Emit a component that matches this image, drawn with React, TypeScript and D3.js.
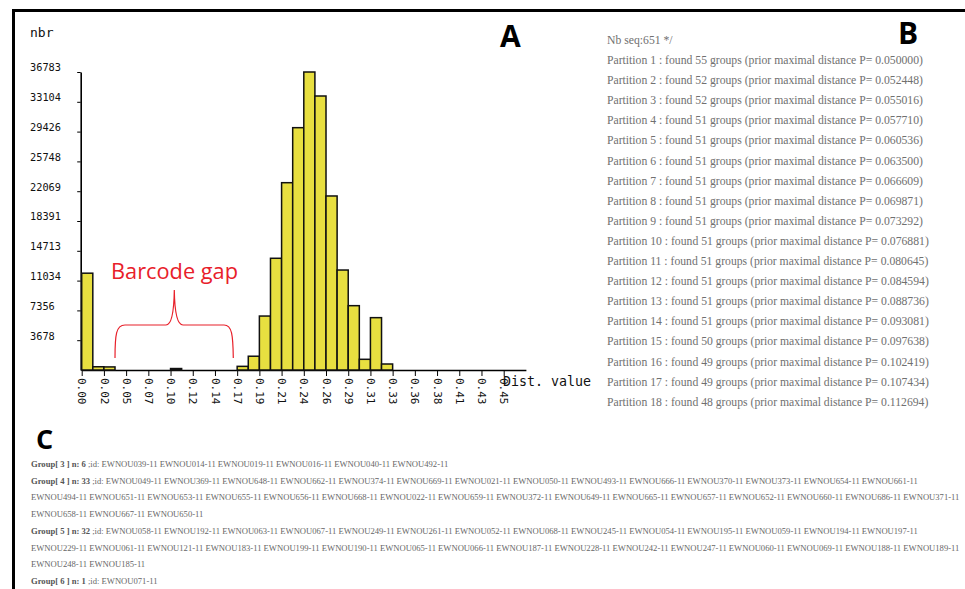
import React, { useEffect, useRef } from 'react'
import { axisBottom, axisLeft, scaleLinear, select } from 'd3'

// histogram of pairwise distances (38 bins from 0 to 0.45)
const binCounts = [
  11950, 400, 380, 0, 0, 0, 0, 0, 180, 0, 0, 0, 0, 0,
  450, 1700, 6660, 13790, 23120, 29910, 36783, 33820, 21480, 12340,
  7940, 1320, 6460, 740, 0, 0, 0, 0, 0, 0, 0, 0, 0, 0,
]
const xTickLabels = [
  '0.00', '0.02', '0.05', '0.07', '0.10', '0.12', '0.14', '0.17', '0.19', '0.21',
  '0.24', '0.26', '0.29', '0.31', '0.33', '0.36', '0.38', '0.41', '0.43', '0.45',
]
const yTickLabels = [3678, 7356, 11034, 14713, 18391, 22069, 25748, 29426, 33104, 36783]

const nbSeq = 651
const partitionGroups = [55, 52, 52, 51, 51, 51, 51, 51, 51, 51, 51, 51, 51, 51, 50, 49, 49, 48]
const partitionDistances = [
  '0.050000', '0.052448', '0.055016', '0.057710', '0.060536', '0.063500',
  '0.066609', '0.069871', '0.073292', '0.076881', '0.080645', '0.084594',
  '0.088736', '0.093081', '0.097638', '0.102419', '0.107434', '0.112694',
]

const groupNumbers = [3, 4, 5, 6]
const groupIds = [
  ['EWNOU039-11', 'EWNOU014-11', 'EWNOU019-11', 'EWNOU016-11', 'EWNOU040-11', 'EWNOU492-11'],
  ['EWNOU049-11', 'EWNOU369-11', 'EWNOU648-11', 'EWNOU662-11', 'EWNOU374-11', 'EWNOU669-11', 'EWNOU021-11',
    'EWNOU050-11', 'EWNOU493-11', 'EWNOU666-11', 'EWNOU370-11', 'EWNOU373-11', 'EWNOU654-11', 'EWNOU661-11',
    'EWNOU494-11', 'EWNOU651-11', 'EWNOU653-11', 'EWNOU655-11', 'EWNOU656-11', 'EWNOU668-11', 'EWNOU022-11',
    'EWNOU659-11', 'EWNOU372-11', 'EWNOU649-11', 'EWNOU665-11', 'EWNOU657-11', 'EWNOU652-11', 'EWNOU660-11',
    'EWNOU686-11', 'EWNOU371-11', 'EWNOU658-11', 'EWNOU667-11', 'EWNOU650-11'],
  ['EWNOU058-11', 'EWNOU192-11', 'EWNOU063-11', 'EWNOU067-11', 'EWNOU249-11', 'EWNOU261-11', 'EWNOU052-11',
    'EWNOU068-11', 'EWNOU245-11', 'EWNOU054-11', 'EWNOU195-11', 'EWNOU059-11', 'EWNOU194-11', 'EWNOU197-11',
    'EWNOU229-11', 'EWNOU061-11', 'EWNOU121-11', 'EWNOU183-11', 'EWNOU199-11', 'EWNOU190-11', 'EWNOU065-11',
    'EWNOU066-11', 'EWNOU187-11', 'EWNOU228-11', 'EWNOU242-11', 'EWNOU247-11', 'EWNOU060-11', 'EWNOU069-11',
    'EWNOU188-11', 'EWNOU189-11', 'EWNOU248-11', 'EWNOU185-11'],
  ['EWNOU071-11'],
]
// how many ids go on each printed line
const groupLineBreaks = [[6], [14, 16, 3], [14, 16, 2], [1]]

const W = 965
const H = 589
const maxDist = 0.45
const binW = maxDist / 38
const tickStep = maxDist / 19

const App = () => {
  const svgRef = useRef<SVGSVGElement>(null)

  const x = scaleLinear().domain([0, maxDist + tickStep]).range([81.7, 525.9])
  const y = scaleLinear().domain([0, 36783]).range([370, 72])

  useEffect(() => {
    const svg = select(svgRef.current)

    svg.selectAll('.bar')
      .data(binCounts.map((v, i) => ({ v, i })).filter(d => d.v > 0))
      .join('rect')
      .attr('class', 'bar')
      .attr('x', d => x(d.i * binW))
      .attr('width', d => x((d.i + 1) * binW) - x(d.i * binW))
      .attr('y', d => y(d.v))
      .attr('height', d => y(0) - y(d.v))
      .attr('fill', '#e8df40')
      .attr('stroke', '#111')
      .attr('stroke-width', 1.5)

    const xAxis = axisBottom(x)
      .tickValues(xTickLabels.map((_, i) => i * tickStep))
      .tickFormat((_, i) => xTickLabels[i])
      .tickSize(6)
      .tickSizeOuter(0)

    const gx = svg.select('.x-axis').attr('transform', `translate(0,${y(0)})`).call(xAxis as any)
    gx.select('.domain').attr('stroke-width', 1.6)
    gx.selectAll('text')
      .attr('transform', 'rotate(90)')
      .attr('x', 8)
      .attr('y', 0)
      .attr('dy', '0.35em')
      .attr('text-anchor', 'start')
      .attr('font-family', 'DejaVu Sans Mono')
      .attr('font-size', 11)
      .attr('fill', '#111')

    const yAxis = axisLeft(y)
      .tickValues(yTickLabels)
      .tickFormat(d => String(d))
      .tickSize(3.5)
      .tickSizeOuter(0)

    const gy = svg.select('.y-axis').attr('transform', `translate(${x(0) - 1},0)`).call(yAxis as any)
    gy.select('.domain').attr('stroke-width', 1.6)
    gy.selectAll('text')
      .attr('x', 30 - x(0) + 1)
      .attr('dy', '-0.1em')
      .attr('text-anchor', 'start')
      .attr('font-family', 'DejaVu Sans Mono')
      .attr('font-size', 10.3)
      .attr('fill', '#111')
  }, [])

  const partitionLines = partitionGroups.map((g, i) =>
    `Partition ${i + 1} : found ${g} groups (prior maximal distance P= ${partitionDistances[i]})`)

  // split each group's ids into printed lines
  const groupRows: { head: string | null, ids: string[] }[] = []
  groupNumbers.forEach((g, gi) => {
    let start = 0
    groupLineBreaks[gi].forEach((n, li) => {
      groupRows.push({
        head: li === 0 ? `Group[ ${g} ] n: ${groupIds[gi].length}` : null,
        ids: groupIds[gi].slice(start, start + n),
      })
      start += n
    })
  })

  return (
    <svg ref={svgRef} width={W} height={H}
      style={{ position: 'fixed', left: 0, top: 0, background: '#fff' }}>
      <path d={`M13.5,${H} V10.5 H${W}`} fill="none" stroke="#000" strokeWidth={3} />

      <text x={30} y={37} fontFamily="DejaVu Sans Mono" fontSize={13} fill="#111">nbr</text>
      <g className="x-axis" />
      <g className="y-axis" />
      <text x={503} y={386} fontFamily="DejaVu Sans Mono" fontSize={13.3} fill="#111">Dist. value</text>

      {/* barcode gap annotation */}
      <text x={111} y={279} fontFamily="Open Sans" fontSize={21} fill="#e8202a"
        textLength={127} lengthAdjust="spacingAndGlyphs">Barcode gap</text>
      <path d="M115,358 C115,335 116,325 125,325 L166,325 C172,325 174,310 174.3,290 C174.6,310 177,325 183,325 L224,325 C232,325 233,335 233.3,358"
        fill="none" stroke="#e8202a" strokeWidth={1.2} />

      <text x={500} y={47} fontFamily="Open Sans" fontWeight={700} fontSize={30} fill="#000">A</text>
      <text x={898} y={44} fontFamily="Open Sans" fontWeight={700} fontSize={30} fill="#000">B</text>
      <text x={36} y={449} fontFamily="Open Sans" fontWeight={700} fontSize={27} fill="#000">C</text>

      <g fontFamily="Liberation Serif, DejaVu Serif, serif" fontSize={11.7} fill="#707070">
        <text x={607} y={44}>Nb seq:{nbSeq} */</text>
        {partitionLines.map((t, i) => (
          <text key={i} x={607} y={64 + i * 20.1}>{t}</text>
        ))}
      </g>

      <g fontFamily="Liberation Serif, DejaVu Serif, serif" fontSize={8.6} fill="#666">
        {groupRows.map((r, i) => (
          <text key={i} x={31} y={467 + i * 16.7}>
            {r.head && <tspan fontWeight={700} fill="#555">{r.head}</tspan>}
            {r.head ? ` ;id: ${r.ids.join(' ')}` : r.ids.join(' ')}
          </text>
        ))}
      </g>
    </svg>
  )
}

export default App
